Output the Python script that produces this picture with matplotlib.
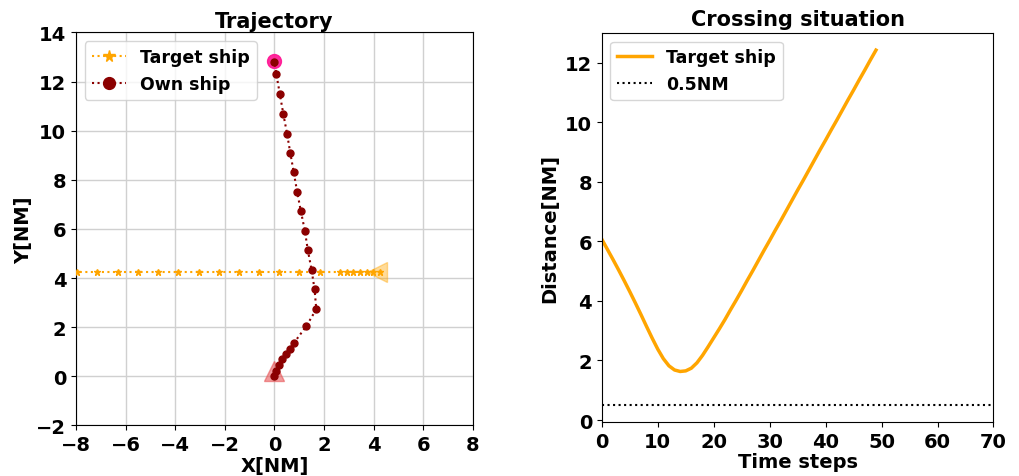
import matplotlib

matplotlib.use("Agg")

import matplotlib.pyplot as plt  # noqa: E402

# own ship track (NM)
own_x = [0.0, 0.05, 0.17, 0.32, 0.47, 0.61, 0.79, 1.28, 1.69, 1.62, 1.50, 1.35,
         1.23, 1.07, 0.92, 0.78, 0.64, 0.51, 0.36, 0.22, 0.08, 0.0]
own_y = [0.0, 0.23, 0.47, 0.70, 0.90, 1.12, 1.36, 2.03, 2.73, 3.54, 4.33, 5.13,
         5.92, 6.71, 7.50, 8.31, 9.10, 9.88, 10.68, 11.49, 12.30, 12.80]
own_start = (0.0, 0.22)
own_goal = (0.0, 12.84)

# target ship track (NM)
target_x = [4.26, 3.99, 3.72, 3.45, 3.18, 2.91, 2.64, 1.82, 1.01, 0.20, -0.61,
            -1.42, -2.24, -3.05, -3.88, -4.69, -5.50, -6.31, -7.14, -7.95, -8.76]
target_y = [4.24] * len(target_x)
target_start = (4.14, 4.24)

# distance own ship <-> target ship per time step
distance = [6.07, 5.73, 5.39, 5.04, 4.68, 4.31, 3.93, 3.54, 3.14, 2.75,
            2.38, 2.06, 1.82, 1.68, 1.63, 1.65, 1.74, 1.92, 2.17, 2.46,
            2.76, 3.06, 3.37, 3.70, 4.02, 4.35, 4.69, 5.02, 5.36, 5.70,
            6.03, 6.37, 6.70, 7.04, 7.38, 7.72, 8.05, 8.39, 8.73, 9.07,
            9.40, 9.74, 10.07, 10.41, 10.75, 11.08, 11.42, 11.75, 12.09, 12.42]
steps = list(range(len(distance)))
safe_dist = 0.5

plt.rcParams["font.weight"] = "bold"
plt.rcParams["axes.titleweight"] = "bold"
plt.rcParams["axes.labelweight"] = "bold"
plt.rcParams["font.size"] = 14

fig = plt.figure(figsize=(10.2, 4.77), dpi=100)
ax1 = fig.add_axes([0.0745, 0.106, 0.389, 0.824])
ax2 = fig.add_axes([0.590, 0.113, 0.384, 0.816])

# --- trajectory ---
ax1.plot(own_start[0], own_start[1], "^", color="#e8585a", alpha=0.6, markersize=15, zorder=2)
ax1.plot(target_start[0], target_start[1], "<", color="orange", alpha=0.4, markersize=15, zorder=2)
ax1.plot(own_goal[0], own_goal[1], "o", color="#ff1493", alpha=0.9, markersize=10, zorder=2)
ax1.plot(target_x, target_y, ":", marker="*", color="orange", markersize=5,
         linewidth=1.5, label="Target ship", zorder=3)
ax1.plot(own_x, own_y, ":", marker="o", color="darkred", markersize=5,
         linewidth=1.5, label="Own ship", zorder=4)
ax1.set_xlim(-8, 8)
ax1.set_ylim(-2, 14)
ax1.set_xticks(range(-8, 9, 2))
ax1.set_yticks(range(-2, 15, 2))
ax1.grid(True, color="#d0d0d0", linewidth=1)
ax1.set_title("Trajectory", fontsize=15, pad=4)
ax1.set_xlabel("X[NM]", labelpad=1)
ax1.set_ylabel("Y[NM]", labelpad=2)
ax1.legend(loc="upper left", markerscale=1.7, fontsize=12.5)

# --- distance ---
ax2.plot(steps, distance, "-", color="orange", linewidth=2.5, label="Target ship")
ax2.axhline(safe_dist, color="black", linestyle=":", linewidth=1.5, label="0.5NM")
ax2.set_xlim(0, 70)
ax2.set_ylim(-0.07, 13.0)
ax2.set_xticks(range(0, 71, 10))
ax2.set_yticks(range(0, 13, 2))
ax2.set_title("Crossing situation", fontsize=15, pad=6)
ax2.set_xlabel("Time steps", labelpad=1)
ax2.set_ylabel("Distance[NM]", labelpad=4)
ax2.legend(loc="upper left", fontsize=12.5)

fig.savefig("out.png", dpi=100)
plt.close(fig)
